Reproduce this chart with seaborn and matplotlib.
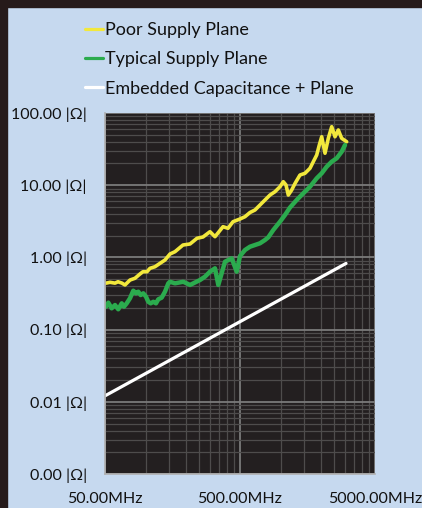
import numpy as np
import pandas as pd
import matplotlib
matplotlib.use("Agg")
import matplotlib.pyplot as plt
from matplotlib.ticker import FixedLocator, NullFormatter, LogLocator
import seaborn as sns

# Series names (legend order)
series_names = ["Poor Supply Plane", "Typical Supply Plane", "Embedded Capacitance + Plane"]

# Poor supply plane: frequency (MHz) / impedance (ohm)
poor_freq = [50.9, 54.5, 59.3, 62.4, 66.8, 70.3, 76.6, 83.4, 90.8, 95.6, 102.4, 107.7,
             117.3, 127.8, 139.1, 151.5, 165.0, 189.1, 213.2, 240.1, 266.0, 299.7, 326.4,
             374.2, 407.5, 443.7, 500, 544.5, 593.0, 645.8, 703.2, 765.8, 833.9, 908.2,
             988.9, 1046.6, 1095.6, 1139.6, 1207.5, 1277.3, 1391, 1515, 1650, 1745.6,
             1850, 1933.6, 2014.6, 2131, 2255, 2389.5, 2527.5, 2673.5, 2833, 3085]
poor_z = [0.44, 0.452, 0.44, 0.46, 0.44, 0.415, 0.486, 0.514, 0.589, 0.634, 0.634, 0.706,
          0.743, 0.828, 0.92, 1.114, 1.2, 1.485, 1.534, 1.84, 1.918, 2.27, 1.936,
          2.663, 2.53, 3.121, 3.404, 3.664, 4.188, 4.536, 5.32, 6.24, 7.31, 8.13,
          9.53, 11.18, 10.07, 7.31, 8.58, 10.56, 13.84, 14.62, 17.15, 21.17,
          26.2, 36.0, 46.9, 27.7, 44.6, 64.6, 46.9, 58.2, 44.6, 40.0]

# Typical supply plane
typ_freq = [50.9, 52.9, 56.0, 59.3, 62.7, 66.5, 69.1, 72.4, 76.6, 81.0, 84.8, 88.2, 91.9,
            96.1, 100.6, 104.6, 109.0, 114.0, 119.3, 124.1, 131.5, 139.1, 147.2, 151.5,
            165.0, 190.1, 213.2, 252.7, 275.3, 299.7, 326.4, 345.4, 387.1, 434.0, 472.7,
            500, 544.5, 593.0, 645.8, 703.2, 765.8, 810.2, 882.5, 988.9, 1077, 1173,
            1315, 1472, 1650, 1850, 2014.6, 2193, 2389.5, 2601, 2833, 2997]
typ_z = [0.2075, 0.236, 0.197, 0.219, 0.191, 0.231, 0.2075, 0.231, 0.272, 0.346, 0.318,
         0.335, 0.301, 0.318, 0.286, 0.243, 0.231, 0.243, 0.231, 0.263, 0.277, 0.335,
         0.4375, 0.46, 0.4375, 0.46, 0.415, 0.486, 0.541, 0.634, 0.706, 0.415, 0.871,
         0.972, 0.634, 1.045, 1.266, 1.407, 1.485, 1.568, 1.742, 1.898, 2.397, 3.121,
         3.866, 4.91, 6.24, 7.73, 9.53, 12.47, 14.62, 18.04, 21.17, 23.6, 29.1, 36.0]

# Embedded capacitance + plane (straight inductive slope)
emb_freq = [50.0, 3050.0]
emb_z = [0.0121, 0.825]

y_ticks = [0.001, 0.01, 0.1, 1, 10, 100]
y_tick_labels = ["0.00 |\u03a9|", "0.01 |\u03a9|", "0.10 |\u03a9|", "1.00 |\u03a9|",
                 "10.00 |\u03a9|", "100.00 |\u03a9|"]
x_ticks = [50, 500, 5000]
x_tick_labels = ["50.00MHz", "500.00MHz", "5000.00MHz"]

colors = ["#f2e83c", "#2bab4e", "#ffffff"]
widths = [2.6, 3.2, 2.3]

sns.set_style("dark")
plt.rcParams["font.family"] = ["Lato", "DejaVu Sans"]

W, H = 422, 508
fig = plt.figure(figsize=(W / 100, H / 100), dpi=100)
fig.patch.set_facecolor("#c6d9ef")
# dark frame strips on the top and left edges
fig.add_artist(plt.Rectangle((0, 1 - 7 / H), 1, 7 / H, transform=fig.transFigure,
                             color="#261a1a", zorder=0))
fig.add_artist(plt.Rectangle((0, 0), 7 / W, 1, transform=fig.transFigure,
                             color="#261a1a", zorder=0))

ax = fig.add_axes([105 / W, 34 / H, 270 / W, 361 / H])
ax.set_facecolor("#231f20")

frames = []
for name, f, z in [(series_names[0], poor_freq, poor_z),
                   (series_names[1], typ_freq, typ_z),
                   (series_names[2], emb_freq, emb_z)]:
    frames.append(pd.DataFrame({"freq": f, "z": z, "series": name}))
df = pd.concat(frames, ignore_index=True)

for name, c, lw in zip(series_names, colors, widths):
    sns.lineplot(data=df[df["series"] == name], x="freq", y="z", ax=ax, color=c,
                 linewidth=lw, sort=False, estimator=None, label=name)

ax.set_xscale("log")
ax.set_yscale("log")
ax.set_xlim(50, 5000)
ax.set_ylim(0.001, 100)

ax.xaxis.set_major_locator(FixedLocator(x_ticks))
ax.set_xticklabels(x_tick_labels)
ax.xaxis.set_minor_locator(FixedLocator([b * k for b in (50, 500) for k in range(2, 10)]))
ax.xaxis.set_minor_formatter(NullFormatter())
ax.yaxis.set_major_locator(FixedLocator(y_ticks))
ax.set_yticklabels(y_tick_labels)
ax.yaxis.set_minor_locator(LogLocator(base=10, subs=range(2, 10)))
ax.yaxis.set_minor_formatter(NullFormatter())

ax.grid(True, which="major", color="#7a7a7a", linewidth=1.3)
ax.grid(True, which="minor", color="#4e4c4c", linewidth=0.9)
ax.set_axisbelow(True)

ax.tick_params(axis="both", which="major", length=5, width=1, color="#9a9a9a",
               labelsize=11.5, labelcolor="#111111", direction="out")
ax.tick_params(axis="both", which="minor", length=0)
ax.tick_params(axis="y", pad=8)
ax.tick_params(axis="x", pad=8)
ax.set_xlabel("")
ax.set_ylabel("")
for s in ["top", "right"]:
    ax.spines[s].set_visible(False)
for s in ["left", "bottom"]:
    ax.spines[s].set_visible(True)
    ax.spines[s].set_color("#b0b0b0")
    ax.spines[s].set_linewidth(1.2)

handles, labels = ax.get_legend_handles_labels()
ax.get_legend().remove()
leg = fig.legend(handles, labels, loc="upper left", bbox_to_anchor=(85 / W, 1 - 22 / H),
                 frameon=False, fontsize=13, handlelength=1.0, handletextpad=0.1,
                 labelspacing=0.74, borderpad=0, borderaxespad=0)
for t in leg.get_texts():
    t.set_color("#111111")
for h in leg.get_lines():
    h.set_linewidth(2.3)

fig.savefig("out.png", dpi=100, facecolor=fig.get_facecolor())
